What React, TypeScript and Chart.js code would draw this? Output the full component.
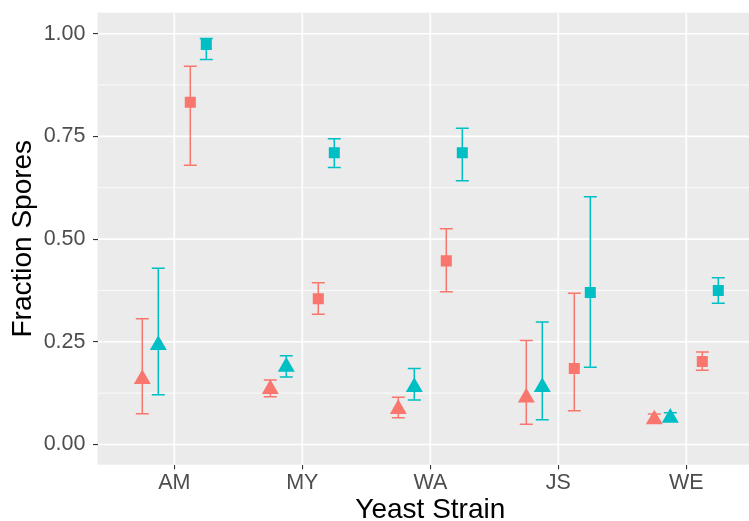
import React, { useEffect, useRef } from "react";
import { Chart, registerables } from "chart.js";

Chart.register(...registerables);

const categories = ["AM", "MY", "WA", "JS", "WE"];
const yTicks = [0, 0.25, 0.5, 0.75, 1.0];
const yMinorTicks = [0.125, 0.375, 0.625, 0.875];

const redTriMean = [0.159, 0.135, 0.086, 0.114, 0.061];
const redTriLow = [0.075, 0.116, 0.065, 0.049, 0.056];
const redTriHigh = [0.306, 0.157, 0.115, 0.253, 0.074];

const cyanTriMean = [0.242, 0.189, 0.14, 0.14, 0.065];
const cyanTriLow = [0.121, 0.164, 0.108, 0.06, 0.057];
const cyanTriHigh = [0.429, 0.216, 0.185, 0.298, 0.077];

const redSqMean = [0.833, 0.355, 0.447, 0.185, 0.202];
const redSqLow = [0.68, 0.317, 0.372, 0.082, 0.181];
const redSqHigh = [0.921, 0.394, 0.525, 0.368, 0.225];

const cyanSqMean = [0.974, 0.71, 0.71, 0.37, 0.375];
const cyanSqLow = [0.937, 0.674, 0.642, 0.188, 0.344];
const cyanSqHigh = [0.988, 0.744, 0.77, 0.603, 0.406];

const RED = "#F8766D";
const CYAN = "#00BFC4";
const FONT = "'Liberation Sans', Arial, Helvetica, sans-serif";

function makeSet(label: string, mean: number[], low: number[], high: number[], offset: number, color: string, shape: string, radius: number) {
  return {
    label,
    data: mean.map((v, i) => ({ x: i + offset, y: v })),
    errLow: low,
    errHigh: high,
    errOffset: offset,
    backgroundColor: color,
    borderColor: color,
    borderWidth: 0,
    pointStyle: shape,
    pointRadius: radius,
    pointHoverRadius: radius,
    showLine: false,
  } as any;
}

const panelPlugin = {
  id: "panelBg",
  beforeDraw(chart: any) {
    const { ctx, chartArea: a, scales } = chart;
    ctx.save();
    ctx.fillStyle = "#FFFFFF";
    ctx.fillRect(0, 0, chart.width, chart.height);
    ctx.fillStyle = "#EBEBEB";
    ctx.fillRect(a.left, a.top, a.right - a.left, a.bottom - a.top);
    ctx.strokeStyle = "#FFFFFF";
    ctx.lineWidth = 0.8;
    for (const v of yMinorTicks) {
      const y = scales.y.getPixelForValue(v);
      ctx.beginPath();
      ctx.moveTo(a.left, y);
      ctx.lineTo(a.right, y);
      ctx.stroke();
    }
    ctx.lineWidth = 1.6;
    for (const v of yTicks) {
      const y = scales.y.getPixelForValue(v);
      ctx.beginPath();
      ctx.moveTo(a.left, y);
      ctx.lineTo(a.right, y);
      ctx.stroke();
    }
    categories.forEach((_, i) => {
      const x = scales.x.getPixelForValue(i);
      ctx.beginPath();
      ctx.moveTo(x, a.top);
      ctx.lineTo(x, a.bottom);
      ctx.stroke();
    });
    ctx.restore();
  },
};

const errorBarPlugin = {
  id: "errorBars",
  beforeDatasetsDraw(chart: any) {
    const { ctx, scales } = chart;
    ctx.save();
    ctx.lineWidth = 1.5;
    chart.data.datasets.forEach((ds: any) => {
      ctx.strokeStyle = ds.borderColor;
      ds.errLow.forEach((lo: number, i: number) => {
        const hi = ds.errHigh[i];
        const x = scales.x.getPixelForValue(i + ds.errOffset);
        const yl = scales.y.getPixelForValue(lo);
        const yh = scales.y.getPixelForValue(hi);
        const hw = 6.5;
        ctx.beginPath();
        ctx.moveTo(x, yl);
        ctx.lineTo(x, yh);
        ctx.moveTo(x - hw, yl);
        ctx.lineTo(x + hw, yl);
        ctx.moveTo(x - hw, yh);
        ctx.lineTo(x + hw, yh);
        ctx.stroke();
      });
    });
    ctx.restore();
  },
};

function zeroPadding(scale: any) {
  scale.paddingTop = 0;
  scale.paddingBottom = 0;
  scale.paddingLeft = 0;
  scale.paddingRight = 0;
}

export default function App() {
  const ref = useRef<HTMLCanvasElement | null>(null);
  useEffect(() => {
    if (!ref.current) return;
    const chart = new Chart(ref.current, {
      type: "scatter",
      data: {
        datasets: [
          makeSet("Red triangles", redTriMean, redTriLow, redTriHigh, -0.25, RED, "triangle", 9.8),
          makeSet("Cyan triangles", cyanTriMean, cyanTriLow, cyanTriHigh, -0.125, CYAN, "triangle", 9.8),
          makeSet("Red squares", redSqMean, redSqLow, redSqHigh, 0.125, RED, "rect", 7.8),
          makeSet("Cyan squares", cyanSqMean, cyanSqLow, cyanSqHigh, 0.25, CYAN, "rect", 7.8),
        ],
      },
      options: {
        animation: false,
        responsive: false,
        devicePixelRatio: 1,
        events: [],
        layout: { autoPadding: false, padding: { top: 12.7, right: 0.9, left: 0, bottom: 0 } },
        plugins: { legend: { display: false }, tooltip: { enabled: false } },
        scales: {
          x: {
            type: "linear",
            min: -0.6,
            max: 4.6,
            afterBuildTicks: (scale: any) => {
              scale.ticks = categories.map((_, i) => ({ value: i }));
            },
            afterFit: (scale: any) => {
              scale.height = 521 - 464.7;
              zeroPadding(scale);
            },
            grid: { display: true, drawOnChartArea: false, drawTicks: true, tickLength: 4.5, color: "#333333", lineWidth: 1.1 },
            border: { display: false },
            ticks: {
              autoSkip: false,
              maxRotation: 0,
              padding: 0.5,
              color: "#4D4D4D",
              font: { family: FONT, size: 21.5 },
              callback: (v: any) => categories[Math.round(Number(v))] ?? "",
            },
            title: {
              display: true,
              text: "Yeast Strain",
              color: "#000000",
              font: { family: FONT, size: 28, lineHeight: 0.75 },
              padding: { top: 0, bottom: 0.2 },
            },
          },
          y: {
            type: "linear",
            min: -0.0492,
            max: 1.0511,
            afterBuildTicks: (scale: any) => {
              scale.ticks = yTicks.map((v) => ({ value: v }));
            },
            afterFit: (scale: any) => {
              scale.width = 97.5;
              zeroPadding(scale);
            },
            grid: { display: true, drawOnChartArea: false, drawTicks: true, tickLength: 4.5, color: "#333333", lineWidth: 1.1 },
            border: { display: false },
            ticks: {
              autoSkip: false,
              padding: 7.5,
              color: "#4D4D4D",
              font: { family: FONT, size: 21.5 },
              callback: (v: any) => Number(v).toFixed(2),
            },
            title: {
              display: true,
              text: "Fraction Spores",
              color: "#000000",
              font: { family: FONT, size: 28, lineHeight: 1.2 },
              padding: { top: 6.5, bottom: 0 },
            },
          },
        },
      } as any,
      plugins: [panelPlugin, errorBarPlugin],
    });
    return () => chart.destroy();
  }, []);
  return (
    <div style={{ position: "absolute", left: 0, top: 0, width: 749, height: 521, overflow: "hidden", background: "#FFFFFF" }}>
      <canvas ref={ref} width={764} height={521} style={{ display: "block", width: 764, height: 521 }} />
    </div>
  );
}
